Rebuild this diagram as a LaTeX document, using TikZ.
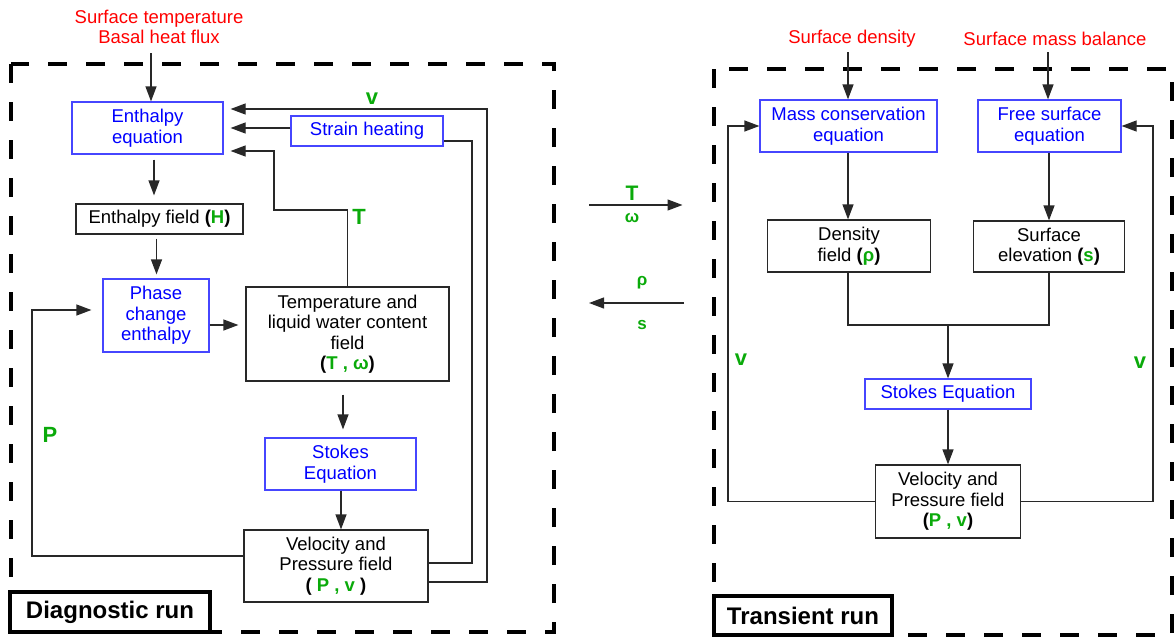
\documentclass[tikz,border=0pt]{standalone}
\usepackage{fontspec}
\setmainfont{Liberation Sans}
\usetikzlibrary{arrows.meta}
\definecolor{gr}{RGB}{10,170,10}
\definecolor{bl}{RGB}{0,0,255}
\definecolor{bb}{RGB}{70,70,255}
\definecolor{rd}{RGB}{255,0,0}
\definecolor{ln}{RGB}{40,40,40}
\begin{document}
\begin{tikzpicture}[x=1pt,y=-1pt,
 every node/.style={font=\fontsize{18.5}{20.5}\selectfont, align=center, inner sep=1pt},
 blkbox/.style={draw=ln, line width=1.2pt, rectangle, fill=white},
 blubox/.style={draw=bb, line width=1.2pt, rectangle, fill=white, text=bl},
 conn/.style={draw=ln, line width=1.2pt},
 arr/.style={conn, -{Triangle[length=15pt,width=11pt]}},
 frame/.style={draw=black, line width=3.5pt, dash pattern=on 19pt off 19pt},
 runlabel/.style={draw=black, line width=3.5pt, fill=white, font=\fontsize{24}{28}\selectfont\bfseries, inner sep=0pt},
 inlabel/.style={text=rd},
 gl/.style={text=gr, font=\fontsize{22}{24}\selectfont\bfseries},
 gs/.style={text=gr, font=\fontsize{17}{20}\selectfont\bfseries}
]
\useasboundingbox (0,0) rectangle (1174,637);

% frames
\draw[frame] (11,64) rectangle (554,632);
\draw[frame] (714,69) rectangle (1172,635);

% ---------- Diagnostic run ----------
\node[blubox, minimum width=151pt, minimum height=52pt] (enth) at (147.5,128) {Enthalpy\\equation};
\node[blubox, minimum width=152pt, minimum height=30pt] (strain) at (367,131) {Strain heating};
\node[blkbox, minimum width=167pt, minimum height=30pt] (hfield) at (159.5,219) {Enthalpy field \textbf{(\textcolor{gr}{H})}};
\node[blubox, minimum width=106pt, minimum height=73pt] (phase) at (156,315.5) {Phase\\change\\enthalpy};
\node[blkbox, minimum width=203pt, minimum height=94pt] (temp) at (347.5,334) {Temperature and\\liquid water content\\field\\\textbf{(\textcolor{gr}{T , ω})}};
\node[blubox, minimum width=151pt, minimum height=52pt] (stokesD) at (340.5,464) {Stokes\\Equation};
\node[blkbox, minimum width=184pt, minimum height=72pt] (velD) at (336,566) {Velocity and\\Pressure field\\\textbf{( \textcolor{gr}{P , v} )}};

\node[inlabel] (inDl) at (159,27) {Surface temperature\\Basal heat flux};
\coordinate (inD) at (151,53);
\draw[arr] (inD) -- (inD |- enth.north);

\coordinate (xa) at (154,0);
\draw[arr, shorten <=5pt, shorten >=8pt] (xa |- enth.south) -- (xa |- hfield.north);
\coordinate (xb) at (156.5,0);
\draw[arr, shorten <=4pt, shorten >=4pt] (xb |- hfield.south) -- (xb |- phase.north);
\coordinate (yc) at (0,325);
\draw[arr, shorten >=7pt] (phase.east |- yc) -- (temp.west |- yc);
\coordinate (xd) at (343,0);
\draw[arr, shorten <=13pt, shorten >=8pt] (xd |- temp.south) -- (xd |- stokesD.north);
\coordinate (xe) at (341,0);
\draw[arr] (xe |- stokesD.south) -- (xe |- velD.north);

% P loop
\coordinate (yP) at (0,556);
\coordinate (xP) at (32,310);
\draw[arr, shorten >=11pt] (velD.west |- yP) -| (xP) -- (phase.west |- xP);
% T loop
\coordinate (tA) at (274,210);
\coordinate (yT) at (0,151);
\draw[arr, shorten >=7pt] (temp.north) |- (tA) -- (tA |- yT) -- (enth.east |- yT);
% strain heating -> enthalpy
\coordinate (yS) at (0,128);
\draw[arr, shorten >=7pt] (strain.west |- yS) -- (enth.east |- yS);
% v loop
\coordinate (yv1) at (0,582);
\coordinate (xv1) at (487,109);
\draw[arr, shorten >=7pt] (velD.east |- yv1) -| (xv1) -- (enth.east |- xv1);
% velocity -> strain heating
\coordinate (ys2) at (0,563);
\coordinate (xs2) at (472,141);
\draw[conn] (velD.east |- ys2) -| (xs2) -- (strain.east |- xs2);

\node[gl] (lv) at (372,99) {v};
\node[gl] (lT) at (359,217) {T};
\node[gl] (lP) at (50,435) {P};

\node[runlabel, minimum width=200pt, minimum height=40pt] (diag) at (110,612) {Diagnostic run};

% ---------- Transient run ----------
\node[blubox, minimum width=177pt, minimum height=52pt] (mass) at (848.5,126) {Mass conservation\\equation};
\node[blubox, minimum width=143pt, minimum height=52pt] (free) at (1049.5,126) {Free surface\\equation};
\node[blkbox, minimum width=162.5pt, minimum height=52pt] (dens) at (849,246) {Density\\field \textbf{(\textcolor{gr}{ρ})}};
\node[blkbox, minimum width=150.5pt, minimum height=51pt] (elev) at (1049,246.5) {Surface\\elevation \textbf{(\textcolor{gr}{s})}};
\node[blubox, minimum width=166pt, minimum height=30pt] (stokesT) at (948,394) {Stokes Equation};
\node[blkbox, minimum width=145.5pt, minimum height=73pt] (velT) at (948,501.5) {Velocity and\\Pressure field\\\textbf{(\textcolor{gr}{P , v})}};

\node[inlabel] (inT1) at (852,39) {Surface density};
\node[inlabel] (inT2) at (1055,39) {Surface mass balance};
\coordinate (a1) at (848,52);
\draw[arr] (a1) -- (a1 |- mass.north);
\coordinate (a2) at (1048,52);
\draw[arr] (a2) -- (a2 |- free.north);

\coordinate (xm) at (848,0);
\draw[arr] (xm |- mass.south) -- (xm |- dens.north);
\coordinate (xf) at (1049,0);
\draw[arr] (xf |- free.south) -- (xf |- elev.north);
\coordinate (ym) at (948,325);
\draw[conn] (xm |- dens.south) |- (ym) -| (xf |- elev.south);
\draw[arr] (ym) -- (stokesT.north);
\draw[arr] (stokesT.south) -- (velT.north);

\coordinate (xl) at (728,126);
\draw[arr] (velT.west) -| (xl) -- (mass.west);
\coordinate (xr) at (1153,126);
\draw[arr] (velT.east) -| (xr) -- (free.east);

\node[gl] (lvl) at (741,360) {v};
\node[gl] (lvr) at (1140,363) {v};

\node[runlabel, minimum width=178pt, minimum height=39pt] (trans) at (803,615.5) {Transient run};

% ---------- exchange ----------
\coordinate (m1) at (589,205);
\coordinate (m2) at (682.5,205);
\draw[arr] (m1) -- (m2);
\node[gl, font=\fontsize{21}{24}\selectfont\bfseries] (lT2) at (632,193) {T};
\node[gs] (lw) at (632,218) {ω};
\coordinate (m3) at (684,303);
\coordinate (m4) at (589,303);
\draw[arr] (m3) -- (m4);
\node[gs] (lrho) at (642,283) {ρ};
\node[gs] (ls) at (642,325) {s};
\end{tikzpicture}
\end{document}
